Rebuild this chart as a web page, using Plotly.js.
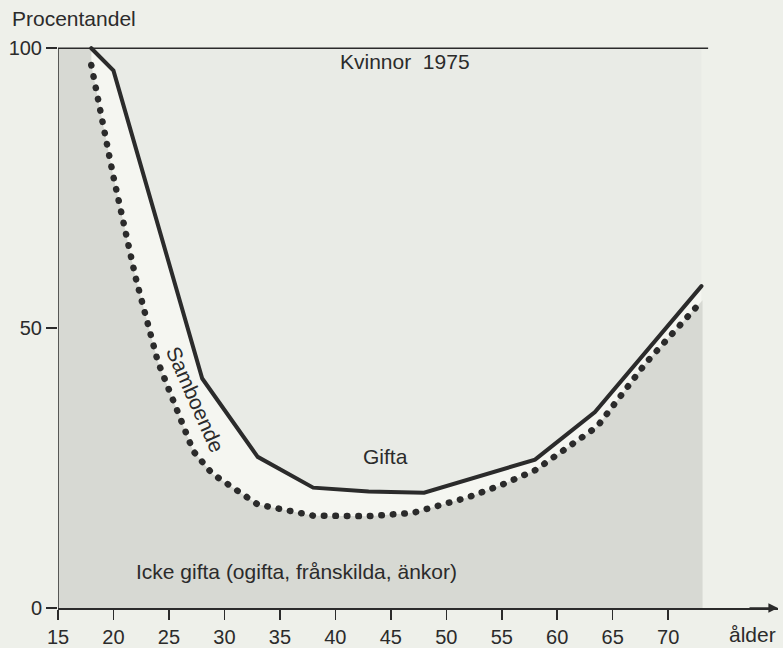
<!DOCTYPE html>
<html>
<head>
<meta charset="utf-8">
<script src="https://cdn.plot.ly/plotly-3.0.1.min.js"></script>
<style>
html,body{margin:0;padding:0;background:#eef0ea;}
#chart{width:783px;height:648px;}
.scatterlayer .js-line{stroke-linecap:round;}
</style>
</head>
<body>
<div id="chart"></div>
<script>
// Solid line: share not married (icke gifta + samboende), women 1975
const agesSolid = [18, 20, 28, 33, 38, 43, 48, 58, 63.4, 73];
const solidPct  = [100, 96, 41, 27, 21.5, 20.8, 20.6, 26.5, 35, 57.5];

// Dotted line: share icke gifta (not cohabiting)
const agesDotted = [18, 20, 22, 24, 26, 27.2, 28.9, 30, 33, 38, 43, 47, 52, 55, 58, 63.6, 68, 73.1];
const dottedPct  = [97, 77, 59, 44, 34, 28, 24, 22.5, 18.5, 16.5, 16.4, 17, 19.8, 22, 24.6, 32.4, 43.8, 55];

const xTicks = [15, 20, 25, 30, 35, 40, 45, 50, 55, 60, 65, 70];
const yTicks = [0, 50, 100];
const ageStart = 15;
const fullPct = 100;

const lastAge = agesSolid[agesSolid.length - 1];
const ink = '#2b2b2b';
const tickFont = {family: 'Liberation Sans, Arial, sans-serif', size: 20, color: ink};
const font = {family: 'Liberation Sans, Arial, sans-serif', size: 21, color: ink};

const traces = [
  // Gifta area (above solid line) up to 100 %
  {x: [ageStart, lastAge], y: [fullPct, fullPct], type: 'scatter', mode: 'lines',
   fill: 'tozeroy', fillcolor: '#e9ebe6', line: {width: 0}, hoverinfo: 'skip'},
  // Samboende area (between lines)
  {x: agesSolid, y: solidPct, type: 'scatter', mode: 'lines',
   fill: 'tozeroy', fillcolor: '#f5f6f1', line: {width: 0}, hoverinfo: 'skip'},
  // Icke gifta area (below dotted line)
  {x: [ageStart, agesDotted[0]].concat(agesDotted), y: [fullPct, fullPct].concat(dottedPct),
   type: 'scatter', mode: 'lines',
   fill: 'tozeroy', fillcolor: '#d7d9d3', line: {width: 0}, hoverinfo: 'skip'},
  // Solid line
  {x: agesSolid, y: solidPct, type: 'scatter', mode: 'lines',
   line: {color: ink, width: 4}},
  // Dotted line
  {x: agesDotted, y: dottedPct, type: 'scatter', mode: 'lines',
   line: {color: ink, width: 6.5, dash: '0.5px,11px'}}
];

const layout = {
  width: 783, height: 648,
  margin: {l: 58, r: 5, t: 46, b: 40, pad: 0},
  paper_bgcolor: '#eef0ea',
  plot_bgcolor: 'rgba(0,0,0,0)',
  showlegend: false,
  font: font,
  xaxis: {
    range: [15, 79.9], tickvals: xTicks, ticktext: xTicks.map(String),
    ticks: 'outside', ticklen: 10, tickwidth: 1.5, tickcolor: ink,
    showline: true, linecolor: ink, linewidth: 1.5,
    showgrid: false, zeroline: false, tickfont: tickFont
  },
  yaxis: {
    range: [0, 100.4], tickvals: yTicks, ticktext: yTicks.map(String),
    ticks: 'outside', ticklen: 11, tickwidth: 1.5, tickcolor: ink,
    showline: false, showgrid: false, zeroline: false, tickfont: tickFont
  },
  shapes: [
    {type: 'line', xref: 'x', yref: 'y', x0: 15, x1: 15, y0: 0, y1: 100, line: {color: ink, width: 1.5}},
    {type: 'line', xref: 'x', yref: 'y', x0: 14.6, x1: 73.6, y0: 100, y1: 100, line: {color: ink, width: 1.5}}
  ],
  annotations: [
    {xref: 'paper', yref: 'paper', x: 1, y: 0, ax: -30, ay: 0, axref: 'pixel', ayref: 'pixel',
     text: '', showarrow: true, arrowhead: 2, arrowsize: 1.2, arrowwidth: 1.6, arrowcolor: ink},
    {xref: 'paper', yref: 'paper', x: 1, y: 0, yshift: -26, xanchor: 'right', yanchor: 'middle',
     text: 'ålder', showarrow: false, font: font},
    {xref: 'paper', yref: 'paper', x: -0.067, y: 1, yshift: 28, xanchor: 'left', yanchor: 'middle',
     text: 'Procentandel', showarrow: false, font: font},
    {xref: 'x', yref: 'y', x: 46.3, y: 97.6, text: 'Kvinnor  1975', showarrow: false, font: font},
    {xref: 'x', yref: 'y', x: 44.5, y: 27, text: 'Gifta', showarrow: false, font: font},
    {xref: 'x', yref: 'y', x: 27.4, y: 37.3, text: 'Samboende', textangle: 66, showarrow: false, font: font},
    {xref: 'x', yref: 'y', x: 36.5, y: 6.6, text: 'Icke gifta (ogifta, frånskilda, änkor)', showarrow: false, font: font}
  ]
};

Plotly.newPlot('chart', traces, layout, {displayModeBar: false, staticPlot: true});
</script>
</body>
</html>
